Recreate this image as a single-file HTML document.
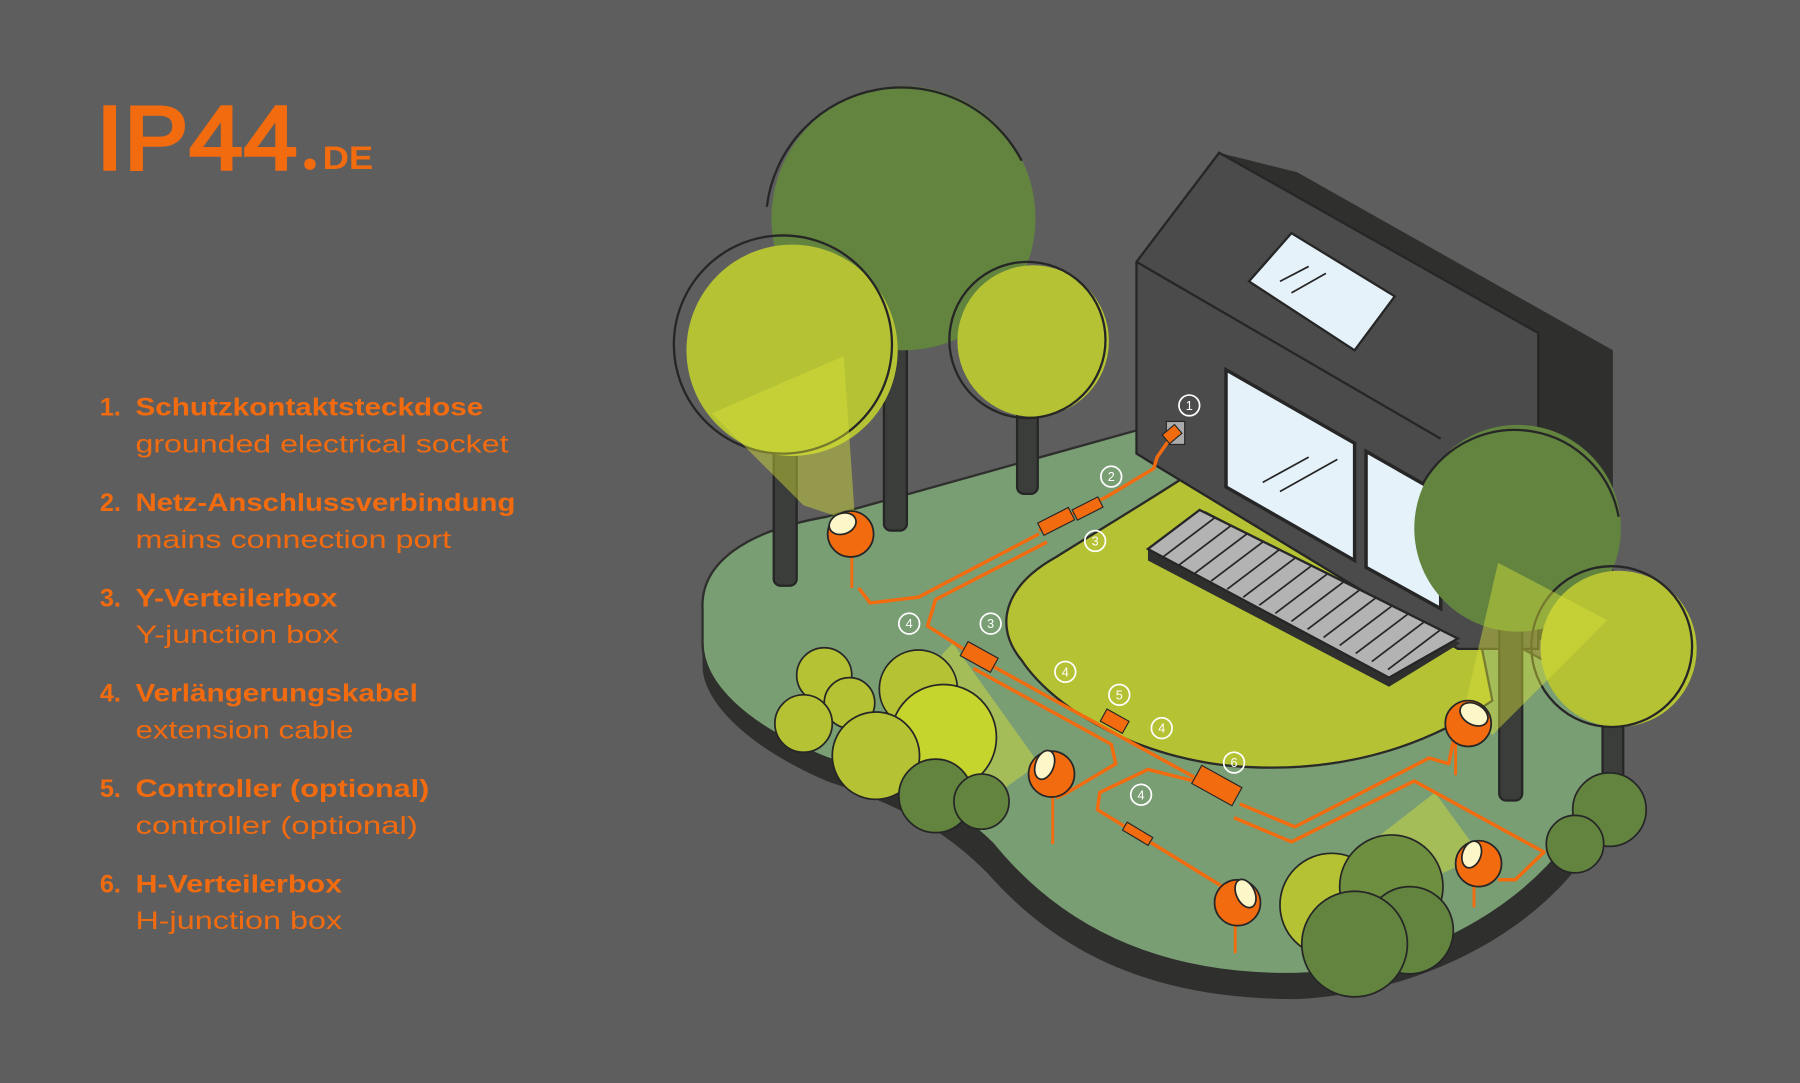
<!DOCTYPE html>
<html><head><meta charset="utf-8"><style>
html,body{margin:0;padding:0;background:#5f5e5f;}
body{width:1800px;height:1083px;overflow:hidden;position:relative;}
svg{position:absolute;left:0;top:0;}
</style></head><body>
<svg width="1800" height="1083" viewBox="0 0 1568 943" preserveAspectRatio="none" xmlns="http://www.w3.org/2000/svg">
<rect width="1568" height="943" fill="#5f5e5f"/>
<!-- logo -->
<text x="84" y="147" font-family="Liberation Sans, sans-serif" font-size="78" fill="#f26b0f" stroke="#f26b0f" stroke-width="3" letter-spacing="1" textLength="176" lengthAdjust="spacingAndGlyphs">IP44</text>
<circle cx="270" cy="143" r="5" fill="#f26b0f"/>
<text x="281" y="147" font-family="Liberation Sans, sans-serif" font-size="28" font-weight="bold" fill="#f26b0f" textLength="44" lengthAdjust="spacingAndGlyphs">DE</text>
<!-- list -->
<g font-family="Liberation Sans, sans-serif" font-size="22" fill="#f26b0f">
<text x="87" y="362" font-weight="bold">1.</text><text x="118" y="362" font-weight="bold" textLength="303" lengthAdjust="spacingAndGlyphs">Schutzkontaktsteckdose</text>
<text x="118" y="394" textLength="325" lengthAdjust="spacingAndGlyphs">grounded electrical socket</text>
<text x="87" y="445" font-weight="bold">2.</text><text x="118" y="445" font-weight="bold" textLength="331" lengthAdjust="spacingAndGlyphs">Netz-Anschlussverbindung</text>
<text x="118" y="477" textLength="275" lengthAdjust="spacingAndGlyphs">mains connection port</text>
<text x="87" y="528" font-weight="bold">3.</text><text x="118" y="528" font-weight="bold" textLength="176" lengthAdjust="spacingAndGlyphs">Y-Verteilerbox</text>
<text x="118" y="560" textLength="177" lengthAdjust="spacingAndGlyphs">Y-junction box</text>
<text x="87" y="611" font-weight="bold">4.</text><text x="118" y="611" font-weight="bold" textLength="246" lengthAdjust="spacingAndGlyphs">Verlängerungskabel</text>
<text x="118" y="643" textLength="190" lengthAdjust="spacingAndGlyphs">extension cable</text>
<text x="87" y="694" font-weight="bold">5.</text><text x="118" y="694" font-weight="bold" textLength="256" lengthAdjust="spacingAndGlyphs">Controller (optional)</text>
<text x="118" y="726" textLength="246" lengthAdjust="spacingAndGlyphs">controller (optional)</text>
<text x="87" y="777" font-weight="bold">6.</text><text x="118" y="777" font-weight="bold" textLength="180" lengthAdjust="spacingAndGlyphs">H-Verteilerbox</text>
<text x="118" y="809" textLength="180" lengthAdjust="spacingAndGlyphs">H-junction box</text>
</g>

<!-- island extrusion -->
<path d="M612,545 C610,505 650,470 720,455 L1000,395 L1060,420 L1400,620 C1420,660 1400,720 1370,760 C1320,820 1230,865 1130,870 C1020,870 930,840 860,760 C820,720 780,700 720,680 C650,650 612,610 612,580 Z" fill="#2f302d"/>
<!-- island top -->
<path d="M612,530 C610,490 650,462 720,450 L1000,372 L1060,420 L1400,605 C1415,650 1395,700 1365,735 C1315,800 1225,845 1130,848 C1020,850 930,815 865,735 C825,695 780,680 720,660 C650,632 612,595 612,560 Z" fill="#7a9e74" stroke="#2f302d" stroke-width="2"/>
<!-- lawn -->
<path d="M1040,410 L1060,425 L1290,560 L1300,610 C1250,645 1180,672 1090,668 C1000,665 920,620 890,575 C865,545 875,510 920,485 C960,460 1010,430 1040,410 Z" fill="#b5c234" stroke="#2a2a28" stroke-width="2"/>

<!-- house -->
<polygon points="1062,133 1130,150 1405,305 1405,500 1350,560 1290,540" fill="#2f302d"/>
<polygon points="990,228 1062,133 1340,290 1340,565 1270,565 990,395" fill="#4c4b4c" stroke="#262626" stroke-width="2"/>
<line x1="990" y1="228" x2="1255" y2="382" stroke="#262626" stroke-width="2"/>
<polygon points="1088,245 1125,203 1215,258 1180,305" fill="#e6f2fa" stroke="#262626" stroke-width="2"/>
<line x1="1115" y1="245" x2="1140" y2="232" stroke="#262626" stroke-width="1.5"/>
<line x1="1125" y1="255" x2="1155" y2="238" stroke="#262626" stroke-width="1.5"/>
<polygon points="1068,322 1180,386 1180,488 1068,424" fill="#e6f2fa" stroke="#262626" stroke-width="3"/>
<polygon points="1190,393 1255,430 1255,530 1190,494" fill="#e6f2fa" stroke="#262626" stroke-width="3"/>
<line x1="1100" y1="420" x2="1140" y2="398" stroke="#262626" stroke-width="1.5"/>
<line x1="1115" y1="428" x2="1165" y2="400" stroke="#262626" stroke-width="1.5"/>
<!-- terrace -->
<polygon points="1000,488 1210,598 1272,560 1222,535 1050,445 1000,478" fill="#2f302d"/>
<polygon points="1000,478 1045,444 1270,556 1210,590" fill="#b3b3b3" stroke="#262626" stroke-width="2"/>
<g stroke="#262626" stroke-width="1.5">
<line x1="1058" y1="451" x2="1013" y2="485"/><line x1="1072" y1="458" x2="1027" y2="492"/><line x1="1086" y1="465" x2="1041" y2="499"/><line x1="1100" y1="472" x2="1055" y2="506"/><line x1="1114" y1="479" x2="1069" y2="513"/><line x1="1128" y1="486" x2="1083" y2="520"/><line x1="1142" y1="493" x2="1097" y2="527"/><line x1="1156" y1="500" x2="1111" y2="534"/><line x1="1170" y1="507" x2="1125" y2="541"/><line x1="1184" y1="514" x2="1139" y2="548"/><line x1="1198" y1="521" x2="1153" y2="555"/><line x1="1212" y1="528" x2="1167" y2="562"/><line x1="1226" y1="535" x2="1181" y2="569"/><line x1="1240" y1="542" x2="1195" y2="576"/><line x1="1254" y1="549" x2="1209" y2="583"/>
</g>
<!-- socket -->
<rect x="1016" y="367" width="16" height="20" fill="#aaa" stroke="#262626"/>

<!-- trunks -->
<g fill="#3a3d3a" stroke="#262626" stroke-width="2">
<rect x="770" y="280" width="20" height="182" rx="6"/>
<rect x="674" y="390" width="20" height="120" rx="6"/>
<rect x="886" y="355" width="18" height="75" rx="6"/>
<rect x="1306" y="540" width="20" height="157" rx="6"/>
<rect x="1396" y="620" width="18" height="60" rx="6"/>
</g>
<!-- trees -->
<circle cx="787" cy="190" r="115" fill="#62843f"/>
<path d="M668,180 A118,118 0 0 1 890,140" fill="none" stroke="#262626" stroke-width="2"/>
<circle cx="690" cy="305" r="92" fill="#b5c234"/>
<circle cx="682" cy="300" r="95" fill="none" stroke="#262626" stroke-width="2"/>
<circle cx="900" cy="297" r="66" fill="#b5c234"/>
<circle cx="895" cy="296" r="68" fill="none" stroke="#262626" stroke-width="2"/>
<circle cx="1322" cy="460" r="90" fill="#62843f"/>
<path d="M1240,420 A92,92 0 0 1 1410,450" fill="none" stroke="#262626" stroke-width="2"/>
<circle cx="1410" cy="565" r="68" fill="#b5c234"/>
<circle cx="1404" cy="563" r="70" fill="none" stroke="#262626" stroke-width="2"/>

<!-- light cones -->
<g fill="#d8e23a" opacity="0.45">
<polygon points="620,360 735,310 745,455 700,440"/>
<polygon points="760,635 830,560 905,665 870,690"/>
<polygon points="1160,760 1250,690 1290,745 1170,800"/>
<polygon points="1275,620 1305,490 1400,540 1300,640"/>
</g>

<!-- bushes -->
<g stroke="#262626" stroke-width="1.5">
<circle cx="718" cy="588" r="24" fill="#b5c234"/>
<circle cx="740" cy="612" r="22" fill="#b5c234"/>
<circle cx="700" cy="630" r="25" fill="#b5c234"/>
<circle cx="800" cy="600" r="34" fill="#b5c234"/>
<circle cx="822" cy="642" r="46" fill="#c6d42e"/>
<circle cx="763" cy="658" r="38" fill="#b5c234"/>
<circle cx="815" cy="693" r="32" fill="#62843f"/>
<circle cx="855" cy="698" r="24" fill="#62843f"/>
<circle cx="1160" cy="788" r="45" fill="#b5c234"/>
<circle cx="1212" cy="772" r="45" fill="#6f8f40"/>
<circle cx="1228" cy="810" r="38" fill="#62843f"/>
<circle cx="1180" cy="822" r="46" fill="#62843f"/>
<circle cx="1402" cy="705" r="32" fill="#62843f"/>
<circle cx="1372" cy="735" r="25" fill="#62843f"/>
</g>

<!-- cables -->
<g fill="none" stroke="#f26b0f" stroke-width="3" stroke-linejoin="round">
<path d="M1022,378 L1008,398 L1005,408 L965,432 L905,462"/>
<path d="M905,465 L800,520 L758,525 L748,512"/>
<path d="M912,472 L815,522 L808,545 L850,572 L1050,682"/>
<path d="M848,582 L968,648 L972,665 L930,690 L920,695"/>
<path d="M1040,680 L1000,670 L958,690 L956,705 L1065,772"/>
<path d="M1080,700 L1128,720 L1245,660 L1262,665 L1266,645"/>
<path d="M1075,712 L1125,733 L1232,680 L1345,742 L1320,766 L1305,766"/>
</g>
<g fill="#f26b0f" stroke="#262626" stroke-width="1">
<rect x="905" y="448" width="30" height="12" transform="rotate(-27 920 454)"/>
<rect x="935" y="438" width="25" height="10" transform="rotate(-27 947 443)"/>
<rect x="838" y="565" width="30" height="14" transform="rotate(29 853 572)"/>
<rect x="960" y="622" width="22" height="12" transform="rotate(29 971 628)"/>
<rect x="1040" y="675" width="40" height="18" transform="rotate(29 1060 684)"/>
<rect x="978" y="722" width="26" height="8" transform="rotate(31 991 726)"/>
<rect x="1014" y="373" width="14" height="10" transform="rotate(-40 1021 378)"/>
</g>

<!-- lamps -->
<g>
<g stroke="#f26b0f" stroke-width="2.5"><line x1="742" y1="480" x2="742" y2="512"/><line x1="917" y1="690" x2="917" y2="735"/><line x1="1268" y1="645" x2="1268" y2="675"/><line x1="1284" y1="768" x2="1284" y2="790"/><line x1="1076" y1="800" x2="1076" y2="830"/></g>
<g fill="#f26b0f" stroke="#262626" stroke-width="1.5">
<circle cx="741" cy="465" r="20"/><circle cx="916" cy="674" r="20"/><circle cx="1279" cy="630" r="20"/><circle cx="1288" cy="752" r="20"/><circle cx="1078" cy="786" r="20"/>
</g>
<g fill="#fcf6c8" stroke="#262626" stroke-width="1.5">
<ellipse cx="734" cy="456" rx="12" ry="9" transform="rotate(-20 734 456)"/>
<ellipse cx="910" cy="666" rx="8" ry="13" transform="rotate(20 910 666)"/>
<ellipse cx="1284" cy="622" rx="13" ry="9" transform="rotate(30 1284 622)"/>
<ellipse cx="1282" cy="744" rx="8" ry="12" transform="rotate(20 1282 744)"/>
<ellipse cx="1085" cy="778" rx="8" ry="13" transform="rotate(-25 1085 778)"/>
</g>
</g>

<!-- labels -->
<g fill="none" stroke="#ffffff" stroke-width="1.5">
<circle cx="1036" cy="353" r="9"/><circle cx="968" cy="415" r="9"/><circle cx="954" cy="471" r="9"/><circle cx="792" cy="543" r="9"/><circle cx="863" cy="543" r="9"/><circle cx="928" cy="585" r="9"/><circle cx="975" cy="605" r="9"/><circle cx="1012" cy="634" r="9"/><circle cx="1075" cy="664" r="9"/><circle cx="994" cy="692" r="9"/>
</g>
<g fill="#ffffff" font-family="Liberation Sans, sans-serif" font-size="11" text-anchor="middle">
<text x="1036" y="357">1</text><text x="968" y="419">2</text><text x="954" y="475">3</text><text x="792" y="547">4</text><text x="863" y="547">3</text><text x="928" y="589">4</text><text x="975" y="609">5</text><text x="1012" y="638">4</text><text x="1075" y="668">6</text><text x="994" y="696">4</text>
</g>
</svg>
</body></html>
